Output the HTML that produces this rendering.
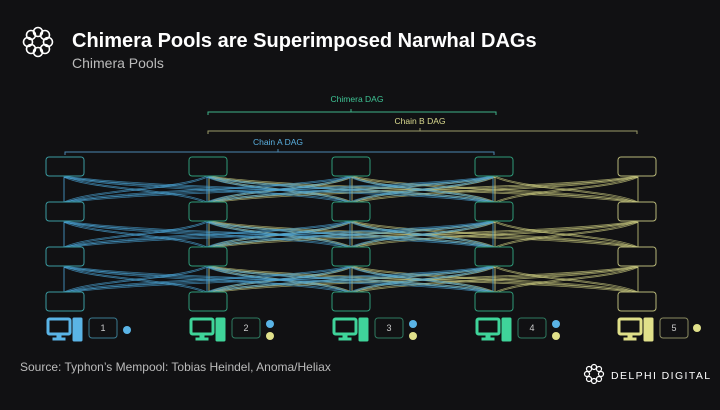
<!DOCTYPE html>
<html><head><meta charset="utf-8"><style>
html,body{margin:0;padding:0;background:#111113;}
body{width:720px;height:405px;overflow:hidden;position:relative;font-family:"Liberation Sans",sans-serif;}
</style></head><body>
<svg width="720" height="405" viewBox="0 0 720 405" xmlns="http://www.w3.org/2000/svg" font-family="Liberation Sans, sans-serif">
<rect width="720" height="405" fill="#111113"/>
<g fill="none" stroke="#fff" stroke-width="1.6">
<circle cx="38" cy="32" r="4.5"/><circle cx="38" cy="52" r="4.5"/>
<circle cx="28" cy="42" r="4.5"/><circle cx="48" cy="42" r="4.5"/>
<circle cx="31" cy="35" r="4.5"/><circle cx="45" cy="35" r="4.5"/>
<circle cx="31" cy="49" r="4.5"/><circle cx="45" cy="49" r="4.5"/>
</g>
<text x="72" y="47" fill="#fff" font-size="20" font-weight="bold">Chimera Pools are Superimposed Narwhal DAGs</text>
<text x="72" y="68" fill="#bbb" font-size="14">Chimera Pools</text>
<g fill="none" stroke-width="1">
<path d="M208 115 V112 H496 V115 M351 112 V109" stroke="#3fb38a"/>
<path d="M208 134 V131 H637 V134 M420 131 V128" stroke="#9a9a6a"/>
<path d="M65 155 V152 H494 V155 M278 152 V149" stroke="#4a88b0"/>
</g>
<text x="357" y="102" fill="#3fc596" font-size="8.5" text-anchor="middle">Chimera DAG</text>
<text x="420" y="124" fill="#dcdc90" font-size="8.5" text-anchor="middle">Chain B DAG</text>
<text x="278" y="145" fill="#5ab0e0" font-size="8.5" text-anchor="middle">Chain A DAG</text>
<g id="edges"></g>
<g fill="#111113" stroke-width="1">
<g stroke="#3a9aa0">
<rect x="46" y="157" width="38" height="19" rx="3"/><rect x="46" y="202" width="38" height="19" rx="3"/><rect x="46" y="247" width="38" height="19" rx="3"/><rect x="46" y="292" width="38" height="19" rx="3"/>
</g>
<g stroke="#2e9a78">
<rect x="189" y="157" width="38" height="19" rx="3"/><rect x="189" y="202" width="38" height="19" rx="3"/><rect x="189" y="247" width="38" height="19" rx="3"/><rect x="189" y="292" width="38" height="19" rx="3"/>
<rect x="332" y="157" width="38" height="19" rx="3"/><rect x="332" y="202" width="38" height="19" rx="3"/><rect x="332" y="247" width="38" height="19" rx="3"/><rect x="332" y="292" width="38" height="19" rx="3"/>
<rect x="475" y="157" width="38" height="19" rx="3"/><rect x="475" y="202" width="38" height="19" rx="3"/><rect x="475" y="247" width="38" height="19" rx="3"/><rect x="475" y="292" width="38" height="19" rx="3"/>
</g>
<g stroke="#b8b878">
<rect x="618" y="157" width="38" height="19" rx="3"/><rect x="618" y="202" width="38" height="19" rx="3"/><rect x="618" y="247" width="38" height="19" rx="3"/><rect x="618" y="292" width="38" height="19" rx="3"/>
</g>
</g>
<defs>
<g id="pc">
<rect x="0" y="0" width="22" height="15" rx="1.5" fill="none" stroke-width="3"/>
<rect x="9" y="15" width="4" height="4"/><rect x="5" y="19" width="12" height="2"/>
<rect x="25" y="-1" width="9" height="23" rx="1"/>
</g>
</defs>
<g fill="#5ab4e6" stroke="#5ab4e6"><use href="#pc" x="48" y="319"/></g>
<g fill="#3fd49a" stroke="#3fd49a"><use href="#pc" x="191" y="319"/><use href="#pc" x="334" y="319"/><use href="#pc" x="477" y="319"/></g>
<g fill="#e0e08a" stroke="#e0e08a"><use href="#pc" x="619" y="319"/></g>
<g fill="none" stroke-width="1">
<rect x="89" y="318" width="28" height="20" rx="3" stroke="#3a7a90"/>
<rect x="232" y="318" width="28" height="20" rx="3" stroke="#2e7a60"/>
<rect x="375" y="318" width="28" height="20" rx="3" stroke="#2e7a60"/>
<rect x="518" y="318" width="28" height="20" rx="3" stroke="#2e7a60"/>
<rect x="660" y="318" width="28" height="20" rx="3" stroke="#8a8a60"/>
</g>
<g fill="#ccc" font-size="9" text-anchor="middle">
<text x="103" y="331">1</text><text x="246" y="331">2</text><text x="389" y="331">3</text><text x="532" y="331">4</text><text x="674" y="331">5</text>
</g>
<circle cx="127" cy="330" r="4" fill="#5ab4e6"/>
<circle cx="270" cy="324" r="4" fill="#5ab4e6"/><circle cx="270" cy="336" r="4" fill="#e0e08a"/>
<circle cx="413" cy="324" r="4" fill="#5ab4e6"/><circle cx="413" cy="336" r="4" fill="#e0e08a"/>
<circle cx="556" cy="324" r="4" fill="#5ab4e6"/><circle cx="556" cy="336" r="4" fill="#e0e08a"/>
<circle cx="697" cy="328" r="4" fill="#e0e08a"/>
<text x="20" y="371" fill="#bbb" font-size="12">Source: Typhon’s Mempool: Tobias Heindel, Anoma/Heliax</text>
<g fill="none" stroke="#fff" stroke-width="1.2">
<circle cx="594" cy="367" r="2.5"/><circle cx="594" cy="381" r="2.5"/><circle cx="587" cy="374" r="2.5"/><circle cx="601" cy="374" r="2.5"/>
<circle cx="589" cy="369" r="2.5"/><circle cx="599" cy="369" r="2.5"/><circle cx="589" cy="379" r="2.5"/><circle cx="599" cy="379" r="2.5"/>
</g>
<text x="611" y="379" fill="#fff" font-size="10.5" letter-spacing="1.4">DELPHI DIGITAL</text>
</svg>
<script>
(function(){
var ns="http://www.w3.org/2000/svg",g=document.getElementById("edges");
var xs=[65,208,351,494,637],tops=[157,202,247,292];
function draw(cols,color,off){
 for(var r=0;r<3;r++){
  var y1=tops[r]+19,y2=tops[r+1];
  cols.forEach(function(i){cols.forEach(function(j){
   var x1=xs[i]+off,x2=xs[j]+off,d;
   if(i==j){d="M"+x1+" "+y1+" L"+x2+" "+y2;}
   else{var ym=(y1+y2)/2;d="M"+x1+" "+y1+" C"+(x1+(x2-x1)*0.2)+" "+(ym)+" "+(x2-(x2-x1)*0.2)+" "+(ym)+" "+x2+" "+y2;}
   for(var k=0;k<2;k++){
   var p=document.createElementNS(ns,"path");
   p.setAttribute("d",d);p.setAttribute("fill","none");p.setAttribute("stroke",color);
   p.setAttribute("stroke-width","0.8");p.setAttribute("opacity","0.7");
   p.setAttribute("transform","translate(0,"+(k*1.2)+")");
   g.appendChild(p);}
  });});
 }
}
draw([1,2,3,4],"#cccc80",1);
draw([0,1,2,3],"#4aa4d6",-1);
})();
</script>
</body></html>
